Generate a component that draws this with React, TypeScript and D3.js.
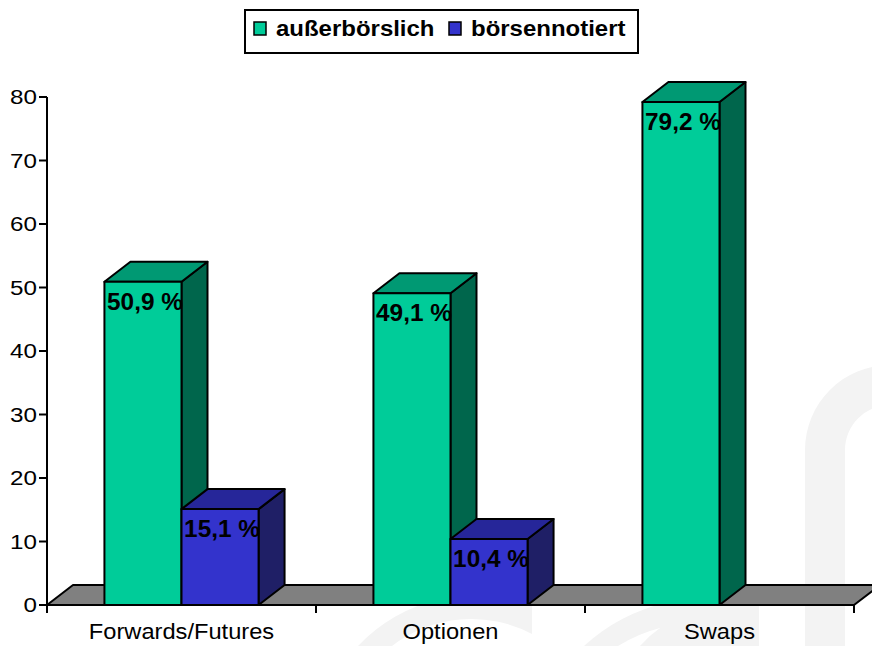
import React from "react";
import * as d3 from "d3";

// Anteile am Derivatevolumen (%)
const categories = ["Forwards/Futures", "Optionen", "Swaps"];
const seriesNames = ["außerbörslich", "börsennotiert"];
const ausserboerslich = [50.9, 49.1, 79.2];
const boersennotiert = [15.1, 10.4, 0];
const yTicks = [0, 10, 20, 30, 40, 50, 60, 70, 80];

const W = 872;
const H = 646;
const plot = { left: 47, right: 854, top: 97, bottom: 605 };
const depth = { dx: 26, dy: -20 };

const palette = [
  { front: "#00cc99", top: "#009973", side: "#00664c" },
  { front: "#3333cc", top: "#262699", side: "#1f1f66" },
];

const FONT = "'Liberation Sans', Arial, Helvetica, sans-serif";

function fmt(v: number) {
  return d3.format(".1f")(v).replace(".", ",") + " %";
}

function Txt(props: {
  x: number;
  y: number;
  sx?: number;
  size: number;
  bold?: boolean;
  anchor?: "start" | "middle" | "end";
  children: React.ReactNode;
}) {
  const { x, y, sx = 1.1, size, bold, anchor = "start", children } = props;
  return (
    <text
      transform={`translate(${x},${y}) scale(${sx},1)`}
      fontFamily={FONT}
      fontSize={size}
      fontWeight={bold ? "bold" : "normal"}
      textAnchor={anchor}
      fill="#000"
    >
      {children}
    </text>
  );
}

export default function App() {
  const x0 = d3.scaleBand<string>().domain(categories).range([plot.left, plot.right]);
  const bw = x0.bandwidth();
  const groupW = bw * 0.573;
  const x1 = d3
    .scaleBand<string>()
    .domain(seriesNames)
    .range([(bw - groupW) / 2, (bw + groupW) / 2]);
  const y = d3.scaleLinear().domain([0, 80]).range([plot.bottom, plot.top]);

  const values = [ausserboerslich, boersennotiert];
  const { dx, dy } = depth;
  const y0 = y(0);

  const floor = [
    [plot.left, y0],
    [plot.right, y0],
    [plot.right + dx, y0 + dy],
    [plot.left + dx, y0 + dy],
  ];
  const line = d3.line();

  const bars: React.ReactNode[] = [];
  const labels: React.ReactNode[] = [];
  categories.forEach((cat, ci) => {
    seriesNames.forEach((s, si) => {
      const v = values[si][ci];
      if (!v) return;
      const xl = (x0(cat) as number) + (x1(s) as number);
      const xr = xl + x1.bandwidth();
      const yt = y(v);
      const c = palette[si];
      const sw = 2;
      bars.push(
        <g key={`${ci}-${si}`} stroke="#000" strokeWidth={sw} strokeLinejoin="round">
          <path
            d={line([[xr, y0], [xr + dx, y0 + dy], [xr + dx, yt + dy], [xr, yt]]) + "Z"}
            fill={c.side}
          />
          <path
            d={line([[xl, yt], [xr, yt], [xr + dx, yt + dy], [xl + dx, yt + dy]]) + "Z"}
            fill={c.top}
          />
          <rect x={xl} y={yt} width={xr - xl} height={y0 - yt} fill={c.front} />
        </g>
      );
      labels.push(
        <Txt key={`l-${ci}-${si}`} x={(xl + xr) / 2 + 2} y={yt + 28} size={23} sx={1.06} bold anchor="middle">
          {fmt(v)}
        </Txt>
      );
    });
  });

  const xTickPos = [...categories.map((c) => x0(c) as number), plot.right];

  return (
    <svg
      width={W}
      height={H}
      style={{ position: "absolute", left: 0, top: 0, background: "#fff" }}
    >
      {/* faint logo in the background */}
      <g fill="#f3f3f3" stroke="none">
        <path d="M 358 646 A 160 160 0 0 1 532 606 L 532 634 A 130 130 0 0 0 392 646 Z" />
        <path d="M 584 646 A 180 180 0 0 1 759 606 L 759 646 L 640 646 A 110 110 0 0 1 660 628 A 150 150 0 0 0 618 646 Z" />
        <path d="M 805 646 L 805 450 A 85 85 0 0 1 890 365 L 890 405 A 45 45 0 0 0 845 450 L 845 646 Z" />
      </g>

      {/* floor */}
      <path
        d={line(floor as [number, number][]) + "Z"}
        fill="#808080"
        stroke="#000"
        strokeWidth={2}
        strokeLinejoin="round"
      />

      {bars}
      {labels}

      {/* y axis */}
      <line x1={plot.left} x2={plot.left} y1={plot.top} y2={y0 + 7} stroke="#000" strokeWidth={2} />
      {yTicks.map((t) => (
        <g key={t}>
          <line x1={plot.left - 8} x2={plot.left} y1={y(t)} y2={y(t)} stroke="#000" strokeWidth={2} />
          <Txt x={plot.left - 10} y={y(t) + 7} size={20.5} sx={1.18} anchor="end">
            {t}
          </Txt>
        </g>
      ))}

      {/* x axis */}
      <line x1={plot.left} x2={plot.right} y1={y0} y2={y0} stroke="#000" strokeWidth={2} />
      {xTickPos.map((p, i) => (
        <line key={i} x1={p} x2={p} y1={y0} y2={y0 + 8} stroke="#000" strokeWidth={2} />
      ))}
      {categories.map((c) => (
        <Txt key={c} x={(x0(c) as number) + bw / 2} y={y0 + 34} size={21.5} sx={1.1} anchor="middle">
          {c}
        </Txt>
      ))}

      {/* legend */}
      <g>
        <rect x={245} y={10} width={393} height={43} fill="#fff" stroke="#000" strokeWidth={2} />
        {seriesNames.map((s, i) => {
          const lx = i === 0 ? 254 : 449;
          return (
            <g key={s}>
              <rect x={lx} y={22} width={12} height={13} fill={palette[i].front} stroke="#000" strokeWidth={1.5} />
              <Txt x={lx + 22} y={36} size={22} sx={1.09} bold>
                {s}
              </Txt>
            </g>
          );
        })}
      </g>
    </svg>
  );
}
